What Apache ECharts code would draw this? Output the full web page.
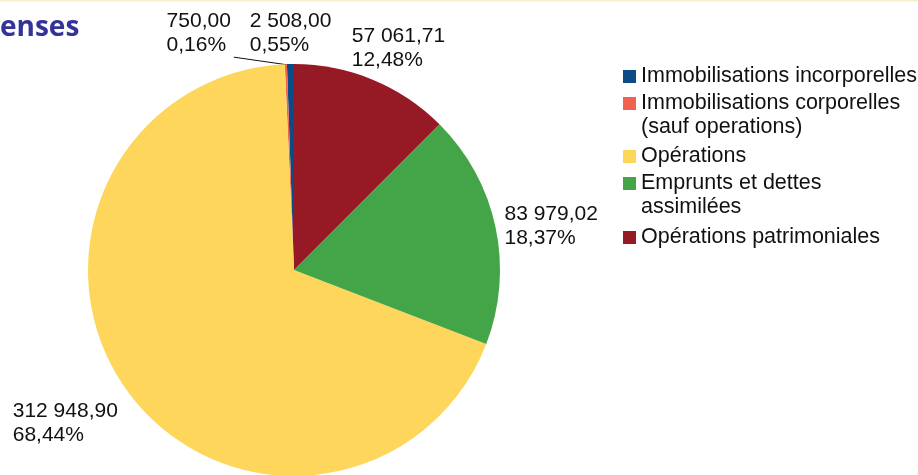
<!DOCTYPE html>
<html><head><meta charset="utf-8">
<script src="https://cdn.jsdelivr.net/npm/echarts@6/dist/echarts.min.js"></script>
<style>html,body{margin:0;padding:0;background:#fff}#c{width:918px;height:475px}</style>
</head><body><div id="c"></div>
<script>
// ---- data ----
const titleText = 'Dépenses';
const categories = ['Immobilisations incorporelles', 'Immobilisations corporelles (sauf operations)', 'Opérations', 'Emprunts et dettes assimilées', 'Opérations patrimoniales'];
const legendLabels = ['Immobilisations incorporelles', 'Immobilisations corporelles\n(sauf operations)', 'Opérations', 'Emprunts et dettes\nassimilées', 'Opérations patrimoniales'];
const values = [2508.00, 750.00, 312948.90, 83979.02, 57061.71];

// ---- style ----
const colors = ['#0b4b86', '#f06150', '#fdd65b', '#43a548', '#961a26'];
// offsets of label block (left edge, vertical centre) from ECharts' default label box
const labelOffsets = [[46, -31], [-50, -31], [-4, 33], [4, -1], [-26, -31]];
const showLeader = [false, true, false, false, false];
const legendTops = [64.5, 67.5, 144.5, 147.5, 225.5];
const FONT = 'Liberation Sans';

function fr(n, d) {
  const s = n.toFixed(d).split('.');
  const ip = s[0].replace(/\B(?=(\d{3})+(?!\d))/g, ' ');
  return ip + (s[1] ? ',' + s[1] : '');
}

const chart = echarts.init(document.getElementById('c'));
const nameToLabel = {};
categories.forEach((c, i) => {
  const lines = legendLabels[i].split('\n').length;
  // leading blank lines keep the icon level with the first text line
  nameToLabel[c] = '\n'.repeat(lines - 1) + legendLabels[i];
});

const legends = categories.map((c, i) => ({
  orient: 'vertical', left: 623, top: legendTops[i], padding: 0, itemGap: 0,
  itemWidth: 13, itemHeight: 13, icon: 'rect',
  data: [c],
  formatter: n => nameToLabel[n],
  textStyle: { fontFamily: FONT, fontSize: 21.5, lineHeight: 24, color: '#111' }
}));

chart.setOption({
  animation: false,
  color: colors,
  title: { text: titleText, left: -60, top: 9,
    textStyle: { fontFamily: 'Open Sans', fontWeight: 'bold', fontSize: 28, color: '#333399' } },
  graphic: [{ type: 'rect', shape: { x: 0, y: 0, width: 918, height: 1.5 }, style: { fill: '#f7f0cf' }, silent: true }],
  legend: legends,
  series: [{
    type: 'pie',
    center: [294, 270], radius: 206,
    startAngle: 90, clockwise: false,
    avoidLabelOverlap: false,
    data: categories.map((c, i) => ({
      name: c, value: values[i],
      labelLine: { show: showLeader[i] }
    })),
    label: {
      show: true, position: 'outside',
      fontFamily: FONT, fontSize: 21, lineHeight: 24, color: '#111',
      formatter: p => fr(p.value, 2) + '\n' + fr(p.percent, 2) + '%'
    },
    labelLine: { length: 0, length2: 0, lineStyle: { color: '#111', width: 1 } },
    labelLayout: p => {
      const o = labelOffsets[p.dataIndex];
      const r = p.labelRect;
      const x = r.x + o[0];
      const yc = r.y + r.height / 2 + o[1];
      const res = { x: x, y: yc, align: 'left', verticalAlign: 'middle' };
      if (showLeader[p.dataIndex]) {
        const a = [p.rect.x + 1, p.rect.y + 0.5];
        const b = [x + r.width + 3, yc + r.height / 2];
        res.labelLinePoints = [a, b, b];
      }
      return res;
    },
    emphasis: { disabled: true }
  }]
});
</script></body></html>
